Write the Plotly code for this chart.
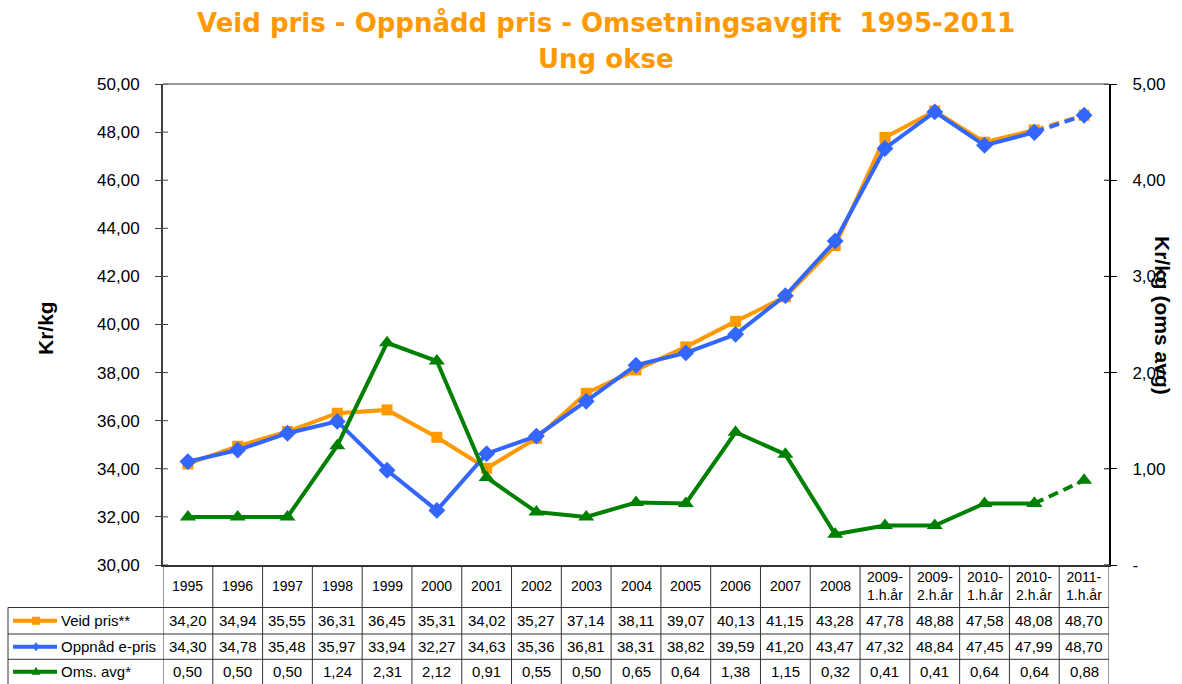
import plotly.graph_objects as go

# ---------------- data ----------------
categories = ["1995", "1996", "1997", "1998", "1999", "2000", "2001", "2002", "2003",
              "2004", "2005", "2006", "2007", "2008",
              "2009-<br>1.h.år", "2009-<br>2.h.år", "2010-<br>1.h.år",
              "2010-<br>2.h.år", "2011-<br>1.h.år"]
veid_pris = [34.20, 34.94, 35.55, 36.31, 36.45, 35.31, 34.02, 35.27, 37.14, 38.11,
             39.07, 40.13, 41.15, 43.28, 47.78, 48.88, 47.58, 48.08, 48.70]
oppnadd_pris = [34.30, 34.78, 35.48, 35.97, 33.94, 32.27, 34.63, 35.36, 36.81, 38.31,
                38.82, 39.59, 41.20, 43.47, 47.32, 48.84, 47.45, 47.99, 48.70]
oms_avg = [0.50, 0.50, 0.50, 1.24, 2.31, 2.12, 0.91, 0.55, 0.50, 0.65,
           0.64, 1.38, 1.15, 0.32, 0.41, 0.41, 0.64, 0.64, 0.88]
series_names = ["Veid pris**", "Oppnåd e-pris", "Oms. avg*"]
left_ticks = [30, 32, 34, 36, 38, 40, 42, 44, 46, 48, 50]
right_ticks = [0, 1, 2, 3, 4, 5]
right_ticktext = ["-", "1,00", "2,00", "3,00", "4,00", "5,00"]
title_line1 = "Veid pris - Oppnådd pris - Omsetningsavgift\u00a0 1995-2011"
title_line2 = "Ung okse"

# ---------------- styling ----------------
W, H = 1182, 684
ORANGE = "#FF9900"
BLUE = "#3366FF"
GREEN = "#008000"
FONT = "Liberation Sans, Arial, sans-serif"
TITLE_FONT = "DejaVu Sans, Verdana, sans-serif"


def px(x):
    return x / W


def py(y):
    return 1 - y / H


PLOT_L, PLOT_R, PLOT_T, PLOT_B = 163, 1109, 84, 565
ROW_LINES = [565, 607.5, 634, 659.3, 684]
TABLE_L = 8

xs = list(range(len(categories)))
n_solid = len(categories) - 1  # last segment is dashed

fig = go.Figure()

series = [
    (veid_pris, ORANGE, "square", 11, "y"),
    (oppnadd_pris, BLUE, "diamond", 13, "y"),
    (oms_avg, GREEN, "triangle-up", 14, "y2"),
]
for vals, col, sym, msize, yax in series:
    fig.add_trace(go.Scatter(
        x=xs[:n_solid], y=vals[:n_solid], yaxis=yax, mode="lines+markers",
        line=dict(color=col, width=4), marker=dict(symbol=sym, size=msize, color=col),
        showlegend=False, hoverinfo="skip"))
    fig.add_trace(go.Scatter(
        x=xs[n_solid - 1:], y=vals[n_solid - 1:], yaxis=yax, mode="lines+markers",
        line=dict(color=col, width=4, dash="10px,6px"),
        marker=dict(symbol=sym, size=msize, color=col),
        showlegend=False, hoverinfo="skip"))

shapes = []
annotations = []

# top border of plot area
shapes.append(dict(type="line", xref="paper", yref="paper",
                   x0=px(PLOT_L), x1=px(PLOT_R), y0=py(PLOT_T), y1=py(PLOT_T),
                   line=dict(color="#999999", width=2)))

# inner halves of the crossing tick marks
for t in left_ticks:
    shapes.append(dict(type="line", xref="paper", yref="y",
                       x0=px(PLOT_L), x1=px(PLOT_L + 5), y0=t, y1=t,
                       line=dict(color="#404040", width=1)))
for t in right_ticks:
    shapes.append(dict(type="line", xref="paper", yref="y2",
                       x0=px(PLOT_R - 5), x1=px(PLOT_R), y0=t, y1=t,
                       line=dict(color="#000000", width=1)))

# table vertical lines (column boundaries follow x scale)
for i in range(len(categories) + 1):
    shapes.append(dict(type="line", xref="x", yref="paper",
                       x0=i - 0.5, x1=i - 0.5, y0=py(ROW_LINES[0]), y1=py(ROW_LINES[-1]),
                       line=dict(color="#333333", width=1)))
# legend column left border
shapes.append(dict(type="line", xref="paper", yref="paper",
                   x0=px(TABLE_L), x1=px(TABLE_L), y0=py(ROW_LINES[1]), y1=py(ROW_LINES[-1]),
                   line=dict(color="#333333", width=1)))
# table horizontal lines
for yl in ROW_LINES[1:-1]:
    shapes.append(dict(type="line", xref="paper", yref="paper",
                       x0=px(TABLE_L), x1=px(PLOT_R), y0=py(yl), y1=py(yl),
                       line=dict(color="#333333", width=1)))

# header labels
header_center = (ROW_LINES[0] + ROW_LINES[1]) / 2
for i, c in enumerate(categories):
    annotations.append(dict(x=i, xref="x", y=py(header_center), yref="paper",
                            text=c, showarrow=False, xanchor="center", yanchor="middle",
                            font=dict(family=FONT, size=14, color="#000000")))

# data rows
for r, (vals, col, sym, msize, yax) in enumerate(series):
    yc = (ROW_LINES[r + 1] + ROW_LINES[r + 2]) / 2
    for i, v in enumerate(vals):
        annotations.append(dict(x=i, xref="x", y=py(yc), yref="paper",
                                text=f"{v:.2f}".replace(".", ","), showarrow=False,
                                xanchor="center", yanchor="middle",
                                font=dict(family=FONT, size=15, color="#000000")))
    # legend key: line sample
    shapes.append(dict(type="line", xref="paper", yref="paper",
                       x0=px(13), x1=px(57), y0=py(yc), y1=py(yc),
                       line=dict(color=col, width=4)))
    mx = 36
    if sym == "square":
        shapes.append(dict(type="rect", xref="paper", yref="paper",
                           x0=px(mx - 4), x1=px(mx + 4), y0=py(yc + 4), y1=py(yc - 4),
                           fillcolor=col, line=dict(width=0)))
    elif sym == "diamond":
        path = (f"M {px(mx)},{py(yc - 4.5)} L {px(mx + 3.5)},{py(yc)} "
                f"L {px(mx)},{py(yc + 4.5)} L {px(mx - 3.5)},{py(yc)} Z")
        shapes.append(dict(type="path", xref="paper", yref="paper", path=path,
                           fillcolor=col, line=dict(width=0)))
    else:
        path = (f"M {px(mx)},{py(yc - 5)} L {px(mx + 4.5)},{py(yc + 3)} "
                f"L {px(mx - 4.5)},{py(yc + 3)} Z")
        shapes.append(dict(type="path", xref="paper", yref="paper", path=path,
                           fillcolor=col, line=dict(width=0)))
    annotations.append(dict(x=px(59), xref="paper", y=py(yc), yref="paper",
                            text=series_names[r], showarrow=False,
                            xanchor="left", yanchor="middle",
                            font=dict(family=FONT, size=15, color="#000000")))

# titles
annotations.append(dict(x=px(606), y=py(23), xref="paper", yref="paper",
                        text=title_line1, showarrow=False, xanchor="center", yanchor="middle",
                        font=dict(family=TITLE_FONT, size=26, color=ORANGE, weight="bold")))
annotations.append(dict(x=px(606), y=py(59), xref="paper", yref="paper",
                        text=title_line2, showarrow=False, xanchor="center", yanchor="middle",
                        font=dict(family=TITLE_FONT, size=26, color=ORANGE, weight="bold")))
# axis titles
annotations.append(dict(x=px(45), y=py(328), xref="paper", yref="paper",
                        text="Kr/kg", showarrow=False, textangle=-90,
                        xanchor="center", yanchor="middle",
                        font=dict(family=FONT, size=21, color="#000000", weight="bold")))
annotations.append(dict(x=px(1163), y=py(315), xref="paper", yref="paper",
                        text="Kr/kg (oms avg)", showarrow=False, textangle=90,
                        xanchor="center", yanchor="middle",
                        font=dict(family=FONT, size=21, color="#000000", weight="bold")))

fig.update_layout(
    width=W, height=H,
    margin=dict(l=0, r=0, t=0, b=0, pad=0, autoexpand=False),
    paper_bgcolor="white", plot_bgcolor="white",
    separators=",.",
    showlegend=False,
    xaxis=dict(domain=[px(PLOT_L), px(PLOT_R)], range=[-0.5, len(categories) - 0.5],
               showgrid=False, zeroline=False, showticklabels=False, ticks="",
               showline=True, linecolor="#333333", linewidth=1.5, automargin=False),
    yaxis=dict(domain=[py(PLOT_B), py(PLOT_T)], range=[30, 50], tickvals=left_ticks,
               tickformat=".2f", showgrid=False, zeroline=False,
               showline=True, linecolor="#404040", linewidth=2,
               ticks="outside", ticklen=6, tickcolor="#404040", tickwidth=1,
               ticklabelstandoff=12, automargin=False,
               tickfont=dict(family=FONT, size=17, color="#000000")),
    yaxis2=dict(overlaying="y", side="right", anchor="x", range=[0, 5],
                tickvals=right_ticks, ticktext=right_ticktext, showgrid=False, zeroline=False,
                showline=True, linecolor="#000000", linewidth=2,
                ticks="outside", ticklen=6, tickcolor="#000000", tickwidth=1,
                ticklabelstandoff=12, automargin=False,
                tickfont=dict(family=FONT, size=17, color="#000000")),
    shapes=shapes,
    annotations=annotations,
)

fig.write_html("out.html", config={"displayModeBar": False},
               post_script="document.body.style.margin='0';")
